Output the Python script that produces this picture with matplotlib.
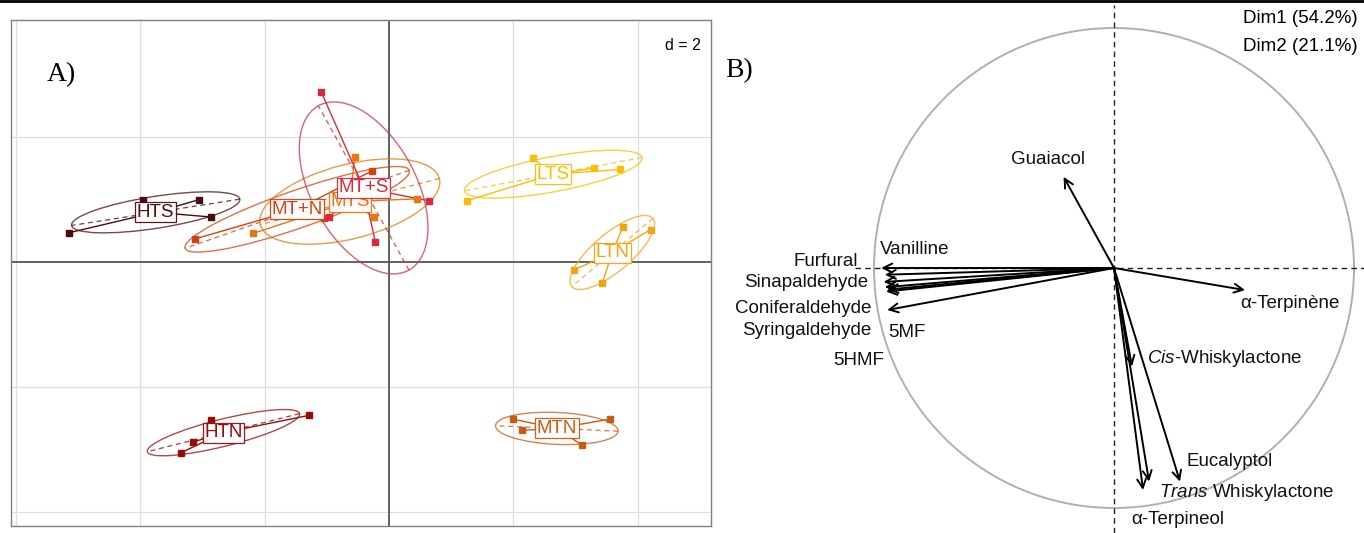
import numpy as np
import matplotlib
matplotlib.use('Agg')
import matplotlib.pyplot as plt
from matplotlib.patches import Ellipse, Circle
from matplotlib.lines import Line2D

plt.rcParams['font.family'] = ['Liberation Sans', 'DejaVu Sans']
plt.rcParams['mathtext.fontset'] = 'custom'
plt.rcParams['mathtext.it'] = 'Liberation Sans:italic'
plt.rcParams['mathtext.rm'] = 'Liberation Sans'

# ---------------- Panel A data (factor map of samples) ----------------
groups = ['HTS', 'MT+N', 'MTS', 'MT+S', 'LTS', 'LTN', 'HTN', 'MTN']
group_colors = ['#4a0c0c', '#d6400f', '#e8760c', '#d62b3c',
                '#f7bf0a', '#f5a312', '#9a0a0a', '#c95a12']

hts_x = [-5.14, -3.96, -3.05, -2.86]
hts_y = [0.47, 0.99, 1.00, 0.72]
mtn_plus_x = [-3.12, -1.04, -0.27]
mtn_plus_y = [0.37, 0.70, 1.46]
mts_x = [-2.18, -0.55, -0.24, 0.45]
mts_y = [0.46, 1.68, 0.72, 1.01]
mts_plus_x = [-1.09, 0.64, -0.22, -0.96]
mts_plus_y = [2.72, 0.98, 0.32, 0.72]
lts_x = [2.31, 3.29, 3.72, 1.25]
lts_y = [1.66, 1.50, 1.48, 0.98]
ltn_x = [3.76, 4.21, 2.97, 3.43]
ltn_y = [0.56, 0.52, -0.13, -0.34]
htn_x = [-2.86, -1.28, -3.16, -3.35]
htn_y = [-2.53, -2.45, -2.88, -3.05]
mtn_x = [1.99, 3.56, 2.14, 3.11]
mtn_y = [-2.51, -2.51, -2.69, -2.93]

group_x = [hts_x, mtn_plus_x, mts_x, mts_plus_x, lts_x, ltn_x, htn_x, mtn_x]
group_y = [hts_y, mtn_plus_y, mts_y, mts_plus_y, lts_y, ltn_y, htn_y, mtn_y]

# ---------------- Panel B data (correlation circle) ----------------
var_names = ['Guaiacol', 'Vanilline', 'Furfural', 'Sinapaldehyde', 'Coniferaldehyde',
             'Syringaldehyde', '5MF', '5HMF', 'α-Terpinène', 'Cis-Whiskylactone',
             'Eucalyptol', 'Trans Whiskylactone', 'α-Terpineol']
var_x = [-0.21, -0.97, -0.955, -0.96, -0.955, -0.95, -0.945, -0.945, 0.546, 0.075, 0.275, 0.146, 0.121]
var_y = [0.38, 0.0, -0.028, -0.058, -0.080, -0.098, -0.090, -0.175, -0.092, -0.41, -0.89, -0.89, -0.925]
label_text = ['Guaiacol', 'Vanilline', 'Furfural', 'Sinapaldehyde', 'Coniferaldehyde',
              'Syringaldehyde', '5MF', '5HMF', 'α-Terpinène', r'$\mathit{Cis}$-Whiskylactone',
              'Eucalyptol', r'$\mathit{Trans}$ Whiskylactone', 'α-Terpineol']
label_x = [-0.275, -0.975, -1.067, -1.025, -1.0125, -1.0125, -0.94, -0.958, 0.733, 0.1375, 0.30, 0.1875, 0.07]
label_y = [0.45, 0.079, 0.029, -0.0625, -0.167, -0.26, -0.27, -0.385, -0.15, -0.379, -0.808, -0.935, -1.05]
label_ha = ['center', 'left', 'right', 'right', 'right', 'right', 'left', 'right', 'center',
            'left', 'left', 'left', 'left']
dim_labels = ['Dim1 (54.2%)', 'Dim2 (21.1%)']

W, H = 1364, 533
fig = plt.figure(figsize=(W / 100, H / 100), dpi=100)

# ================= Panel A =================
axA = fig.add_axes([11 / W, 1 - 526 / H, 700 / W, 506 / H])
axA.set_xlim(-6.08, 5.18)
axA.set_ylim(-4.22, 3.87)
axA.set_xticks([])
axA.set_yticks([])
for s in axA.spines.values():
    s.set_color('#808080')
    s.set_linewidth(1.0)
for gx in [-6, -4, -2, 2, 4]:
    axA.axvline(gx, color='#dedede', lw=0.9, zorder=0)
for gy in [-4, -2, 2]:
    axA.axhline(gy, color='#dedede', lw=0.9, zorder=0)
axA.axhline(0, color='#555555', lw=1.3, zorder=1)
axA.axvline(0, color='#555555', lw=1.3, zorder=1)

c_ell = 1.5
for name, col, xs, ys in zip(groups, group_colors, group_x, group_y):
    xs = np.asarray(xs)
    ys = np.asarray(ys)
    mx, my = xs.mean(), ys.mean()
    cov = np.cov(xs, ys, bias=True)
    vals, vecs = np.linalg.eigh(cov)
    order = np.argsort(vals)[::-1]
    vals = vals[order]
    vecs = vecs[:, order]
    v1 = vecs[:, 0]
    ang = np.degrees(np.arctan2(v1[1], v1[0]))
    a = c_ell * np.sqrt(vals[0])
    b = c_ell * np.sqrt(max(vals[1], 1e-9))
    axA.add_patch(Ellipse((mx, my), 2 * a, 2 * b, angle=ang, fill=False,
                          edgecolor=col, lw=1.0, alpha=0.75, zorder=2))
    axA.plot([mx - a * v1[0], mx + a * v1[0]], [my - a * v1[1], my + a * v1[1]],
             ls=(0, (4, 3)), color=col, lw=0.9, alpha=0.8, zorder=2)
    for px, py in zip(xs, ys):
        axA.plot([mx, px], [my, py], color=col, lw=1.0, zorder=3)
    axA.plot(xs, ys, 's', color=col, ms=4.5, zorder=4)
    axA.text(mx, my, name, color=col, fontsize=13.5, ha='center', va='center', zorder=6,
             bbox=dict(boxstyle='square,pad=0.08', fc='white', ec=col, lw=0.9, alpha=0.95))

axA.text(0.985, 0.965, 'd = 2', transform=axA.transAxes, ha='right', va='top', fontsize=11.5)

fig.text(47 / W, 1 - 75 / H, 'A)', family=['Liberation Serif', 'DejaVu Serif'],
         fontsize=20, va='center', ha='left')

# ================= Panel B =================
cx, cy, R = 1114, 268, 240
axB = fig.add_axes([720 / W, 0, (W - 720) / W, 1])
axB.set_xlim((720 - cx) / R, (W - cx) / R)
axB.set_ylim((cy - H) / R, cy / R)
axB.axis('off')

axB.add_patch(Circle((0, 0), 1.0, fill=False, edgecolor='#b0b0b0', lw=1.4))
axB.plot([-1.08, (W - cx) / R], [0, 0], color='#222222', ls=(0, (4, 3)), lw=1.0)
axB.plot([0, 0], [(cy - H) / R, (cy - 5) / R], color='#222222', ls=(0, (4, 3)), lw=1.0)

for vx, vy in zip(var_x, var_y):
    axB.annotate('', xy=(vx, vy), xytext=(0, 0),
                 arrowprops=dict(arrowstyle='->', color='black', lw=1.4,
                                 shrinkA=0, shrinkB=0, mutation_scale=16))

for t, lx, ly, ha in zip(label_text, label_x, label_y, label_ha):
    axB.text(lx, ly, t, ha=ha, va='center', fontsize=13.5, color='#111111')

axB.text((1358 - cx) / R, (cy - 19) / R, dim_labels[0], ha='right', va='center', fontsize=13.5)
axB.text((1358 - cx) / R, (cy - 47) / R, dim_labels[1], ha='right', va='center', fontsize=13.5)

fig.text(725 / W, 1 - 71 / H, 'B)', family=['Liberation Serif', 'DejaVu Serif'],
         fontsize=20, va='center', ha='left')

fig.add_artist(Line2D([0, 1], [1 - 1 / H, 1 - 1 / H], transform=fig.transFigure,
                      color='black', lw=2))

fig.savefig('out.png', dpi=100)
